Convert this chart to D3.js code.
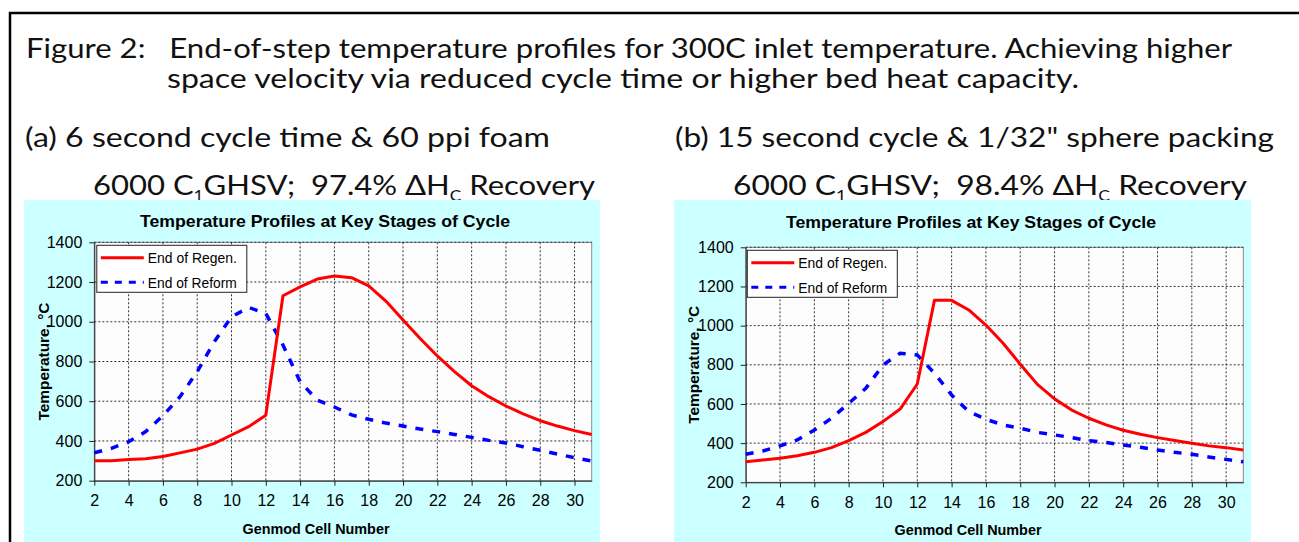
<!DOCTYPE html>
<html>
<head>
<meta charset="utf-8">
<script src="https://cdn.jsdelivr.net/npm/d3@7"></script>
<style>
  body { margin: 0; background: #fff; }
  svg { display: block; }
  text { white-space: pre; }
</style>
</head>
<body>
<script>
// cell numbers along the bed
var cells = [2, 3, 4, 5, 6, 7, 8, 9, 10, 11, 12, 13, 14, 15, 16, 17, 18, 19, 20, 21, 22, 23, 24, 25, 26, 27, 28, 29, 30, 31];

// (a) 6 second cycle, 60 ppi foam
var regenA = [300, 300, 307, 310, 322, 340, 359, 388, 430, 472, 530, 1131, 1176, 1215, 1230, 1222, 1181, 1104, 1009, 916, 828, 749, 678, 623, 576, 536, 502, 475, 452, 433];
var reformA = [341, 363, 396, 447, 527, 623, 749, 900, 1025, 1072, 1042, 883, 698, 606, 571, 531, 509, 490, 475, 460, 447, 433, 418, 403, 390, 371, 353, 334, 316, 299];

// (b) 15 second cycle, 1/32" spheres
var regenB = [305, 314, 323, 336, 353, 377, 413, 455, 510, 574, 702, 1129, 1129, 1080, 1003, 910, 803, 700, 626, 569, 527, 493, 466, 445, 428, 413, 399, 386, 377, 365];
var reformB = [343, 360, 386, 416, 467, 527, 603, 680, 799, 859, 850, 757, 646, 561, 522, 493, 476, 455, 442, 428, 413, 403, 391, 379, 365, 353, 343, 329, 317, 305];

var xTicks = [2, 4, 6, 8, 10, 12, 14, 16, 18, 20, 22, 24, 26, 28, 30];
var yTicks = [200, 400, 600, 800, 1000, 1200, 1400];
var seriesNames = ["End of Regen.", "End of Reform"];
var chartTitle = "Temperature Profiles at Key Stages of Cycle";
var xTitle = "Genmod Cell Number";
var yTitle = "Temperature, °C";

var svg = d3.select("body").append("svg").attr("width", 1299).attr("height", 542);

// page frame (top + left edge)
svg.append("path")
  .attr("d", "M10,542 L10,13 L1299,13")
  .attr("fill", "none")
  .attr("stroke", "#000")
  .attr("stroke-width", 2.5);

var headFont = "Lato, 'Open Sans', sans-serif";
var narrow = "'Liberation Sans Narrow', 'Arial Narrow', 'Liberation Sans', Arial, sans-serif";
var sans = "'Liberation Sans', Arial, sans-serif";

function header(x, y, w, parts) {
  var t = svg.append("text")
    .attr("x", x)
    .attr("y", y)
    .attr("font-family", headFont)
    .attr("font-size", 27)
    .attr("fill", "#111")
    .attr("textLength", w)
    .attr("lengthAdjust", "spacingAndGlyphs");
  var shift = 0;
  parts.forEach(function (p) {
    var sub = p[1] === true;
    var dy = sub ? 6 - shift : -shift;
    shift = sub ? 6 : 0;
    t.append("tspan")
      .attr("dy", dy)
      .attr("font-size", sub ? 15 : 27)
      .text(p[0]);
  });
}

header(26, 58, 1206, [["Figure 2:   End-of-step temperature profiles for 300C inlet temperature. Achieving higher"]]);
header(167, 88, 912, [["space velocity via reduced cycle time or higher bed heat capacity."]]);
header(25, 147, 525, [["(a) 6 second cycle time & 60 ppi foam"]]);
header(675, 147, 599, [["(b) 15 second cycle & 1/32\" sphere packing"]]);
header(93, 195, 502, [["6000 C"], ["1", true], ["GHSV;  97.4% ΔH"], ["C", true], [" Recovery"]]);
header(733, 195, 514, [["6000 C"], ["1", true], ["GHSV;  98.4% ΔH"], ["C", true], [" Recovery"]]);

function drawChart(o, regen, reform) {
  var g = svg.append("g");

  g.append("rect")
    .attr("x", o.px0).attr("y", o.py0)
    .attr("width", o.px1 - o.px0).attr("height", 542 - o.py0)
    .attr("fill", "#ccffff");

  var x = d3.scaleLinear().domain([2, 31]).range([o.left, o.right]),
    y = d3.scaleLinear().domain([200, 1400]).range([o.bottom, o.top]);

  g.append("rect")
    .attr("x", o.left).attr("y", o.top)
    .attr("width", o.right - o.left).attr("height", o.bottom - o.top)
    .attr("fill", "#fdfdfd")
    .attr("stroke", "#8a8a8a");

  // dotted grid
  g.append("g").selectAll("line")
    .data(xTicks.slice(1))
    .enter().append("line")
    .attr("x1", (d) => x(d)).attr("x2", (d) => x(d))
    .attr("y1", o.top).attr("y2", o.bottom)
    .attr("stroke", "#333").attr("stroke-dasharray", "2,2");
  g.append("g").selectAll("line")
    .data(yTicks.slice(1))
    .enter().append("line")
    .attr("x1", o.left).attr("x2", o.right)
    .attr("y1", (d) => y(d)).attr("y2", (d) => y(d))
    .attr("stroke", "#333").attr("stroke-dasharray", "2,2");

  var axisX = d3.axisBottom(x).tickValues(xTicks).tickSize(5).tickSizeOuter(0).tickPadding(9),
    axisY = d3.axisLeft(y).tickValues(yTicks).tickFormat(d3.format("d")).tickSize(5).tickSizeOuter(0).tickPadding(7);

  var ax = g.append("g")
    .attr("transform", "translate(0," + o.bottom + ")")
    .call(axisX);
  var ay = g.append("g")
    .attr("transform", "translate(" + o.left + ",0)")
    .call(axisY);
  [ax, ay].forEach(function (a) {
    a.selectAll("path, line").attr("stroke", "#222");
    a.selectAll("text")
      .attr("font-family", narrow)
      .attr("font-size", 16)
      .attr("fill", "#000");
  });

  g.append("text")
    .attr("x", o.titleX).attr("y", o.titleY)
    .attr("text-anchor", "middle")
    .attr("dominant-baseline", "central")
    .attr("font-family", sans)
    .attr("font-weight", "bold")
    .attr("font-size", 17)
    .attr("textLength", 370)
    .attr("lengthAdjust", "spacingAndGlyphs")
    .text(chartTitle);

  g.append("text")
    .attr("x", o.xTitleX).attr("y", o.xTitleY)
    .attr("text-anchor", "middle")
    .attr("dominant-baseline", "central")
    .attr("font-family", sans)
    .attr("font-weight", "bold")
    .attr("font-size", 15)
    .attr("textLength", 147)
    .attr("lengthAdjust", "spacingAndGlyphs")
    .text(xTitle);

  g.append("text")
    .attr("transform", "translate(" + o.yTitleX + "," + (o.top + o.bottom) / 2 + ") rotate(-90)")
    .attr("text-anchor", "middle")
    .attr("dominant-baseline", "central")
    .attr("font-family", sans)
    .attr("font-weight", "bold")
    .attr("font-size", 15)
    .attr("textLength", 118)
    .attr("lengthAdjust", "spacingAndGlyphs")
    .text(yTitle);

  var line = d3.line()
    .x((d, i) => x(cells[i]))
    .y((d) => y(d));

  g.append("path")
    .attr("d", line(reform))
    .attr("fill", "none")
    .attr("stroke", "#0000ff")
    .attr("stroke-width", 3.5)
    .attr("stroke-dasharray", "8,9");

  g.append("path")
    .attr("d", line(regen))
    .attr("fill", "none")
    .attr("stroke", "#ff0000")
    .attr("stroke-width", 3)
    .attr("stroke-linejoin", "round");

  // legend
  var lx = o.left + o.legDx, ly = o.top + 3;
  var leg = g.append("g").attr("transform", "translate(" + lx + "," + ly + ")");
  leg.append("rect")
    .attr("width", 150).attr("height", 47)
    .attr("fill", "#fff").attr("stroke", "#222");
  var styles = [
    { color: "#ff0000", dash: null },
    { color: "#0000ff", dash: "7,7" }
  ];
  seriesNames.forEach(function (name, i) {
    var yy = 12.5 + i * 24.5;
    leg.append("line")
      .attr("x1", 4).attr("x2", 47)
      .attr("y1", yy).attr("y2", yy)
      .attr("stroke", styles[i].color)
      .attr("stroke-width", 3)
      .attr("stroke-dasharray", styles[i].dash);
    leg.append("text")
      .attr("x", 51).attr("y", yy)
      .attr("dominant-baseline", "central")
      .attr("font-family", sans)
      .attr("font-size", 15)
      .attr("textLength", 89)
      .attr("lengthAdjust", "spacingAndGlyphs")
      .text(name);
  });
}

drawChart({
  px0: 24, px1: 600, py0: 200,
  left: 94.3, right: 591.7, top: 242.3, bottom: 480.7,
  titleX: 325, titleY: 221, xTitleX: 316, xTitleY: 528, yTitleX: 43, legDx: 2.5
}, regenA, reformA);

drawChart({
  px0: 674, px1: 1251, py0: 200,
  left: 745.7, right: 1243.3, top: 247.3, bottom: 482.3,
  titleX: 971, titleY: 222, xTitleX: 968, xTitleY: 529, yTitleX: 693, legDx: 1.6
}, regenB, reformB);
</script>
</body>
</html>
